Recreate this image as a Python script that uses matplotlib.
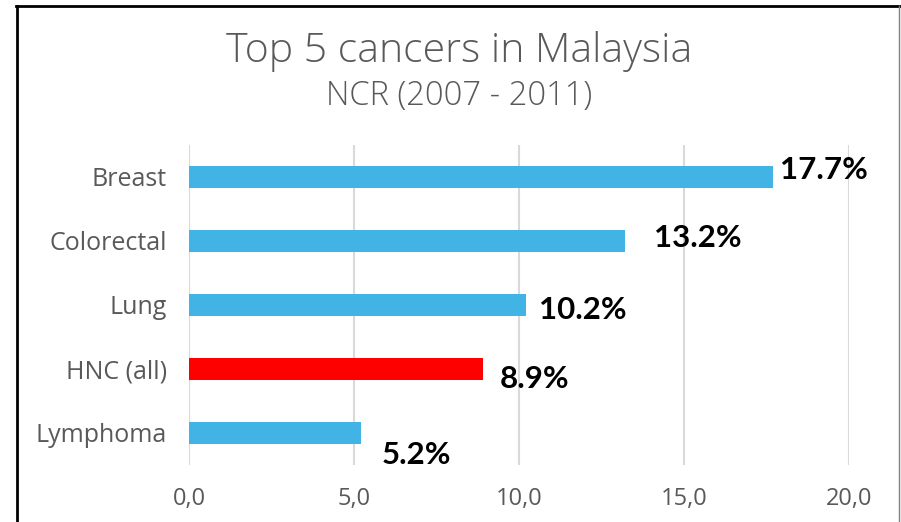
import matplotlib
matplotlib.use("Agg")
import matplotlib.pyplot as plt
from matplotlib.lines import Line2D

categories = ["Breast", "Colorectal", "Lung", "HNC (all)", "Lymphoma"]
values = [17.7, 13.2, 10.2, 8.9, 5.2]
labels = ["17.7%", "13.2%", "10.2%", "8.9%", "5.2%"]
colors = ["#41b4e5", "#41b4e5", "#41b4e5", "#ff0000", "#41b4e5"]
xticks = [0, 5, 10, 15, 20]
xtick_labels = ["0,0", "5,0", "10,0", "15,0", "20,0"]
# label offsets in pixels (dx, dy) relative to bar end / centre
label_offsets = [(7, -2), (29, -6), (13, -14), (17, -19), (21, -31)]

W, H = 901, 522
fig = plt.figure(figsize=(W / 100, H / 100), dpi=100)
ax = fig.add_axes([189 / W, 1 - 465 / H, (849 - 189) / W, (465 - 145) / H])

ypos = list(range(len(categories)))
ax.barh(ypos, values, height=0.35, color=colors, zorder=3)
ax.set_ylim(len(categories) - 0.5, -0.5)
ax.set_xlim(0, 20)
ax.set_xticks(xticks)
ax.set_xticklabels(xtick_labels)
ax.set_yticks(ypos)
ax.set_yticklabels(categories)
ax.grid(axis="x", color="#d9d9d9", linewidth=1.5, zorder=0)
for s in ax.spines.values():
    s.set_visible(False)
ax.tick_params(axis="both", length=0, colors="#595959")
ax.tick_params(axis="y", pad=16, labelsize=18)
ax.tick_params(axis="x", pad=16, labelsize=17)
for t in ax.get_xticklabels() + ax.get_yticklabels():
    t.set_fontfamily(["Open Sans", "DejaVu Sans"])

for y, v, lab, (dx, dy) in zip(ypos, values, labels, label_offsets):
    ax.annotate(lab, xy=(v, y), xytext=(dx, dy), textcoords="offset pixels",
                ha="left", va="baseline", fontsize=22.5, fontweight="bold",
                color="black", family=["Lato", "DejaVu Sans"])

fig.text(459 / W, 1 - 62 / H, "Top 5 cancers in Malaysia", ha="center", va="baseline",
         fontsize=29.5, color="#595959", family=["Open Sans", "DejaVu Sans"], fontweight="light")
fig.text(459 / W, 1 - 105 / H, "NCR (2007 - 2011)", ha="center", va="baseline",
         fontsize=23.5, color="#595959", family=["Open Sans", "DejaVu Sans"], fontweight="light")

fig.add_artist(Line2D([16 / W, 1], [1 - 6 / H, 1 - 6 / H], color="black", linewidth=2,
                      transform=fig.transFigure))
fig.add_artist(Line2D([17 / W, 17 / W], [0, 1 - 6 / H], color="black", linewidth=2,
                      transform=fig.transFigure))
fig.add_artist(Line2D([899 / W, 899 / W], [0, 1 - 6 / H], color="#7f7f7f", linewidth=1,
                      transform=fig.transFigure))

fig.savefig("out.png", dpi=100)
